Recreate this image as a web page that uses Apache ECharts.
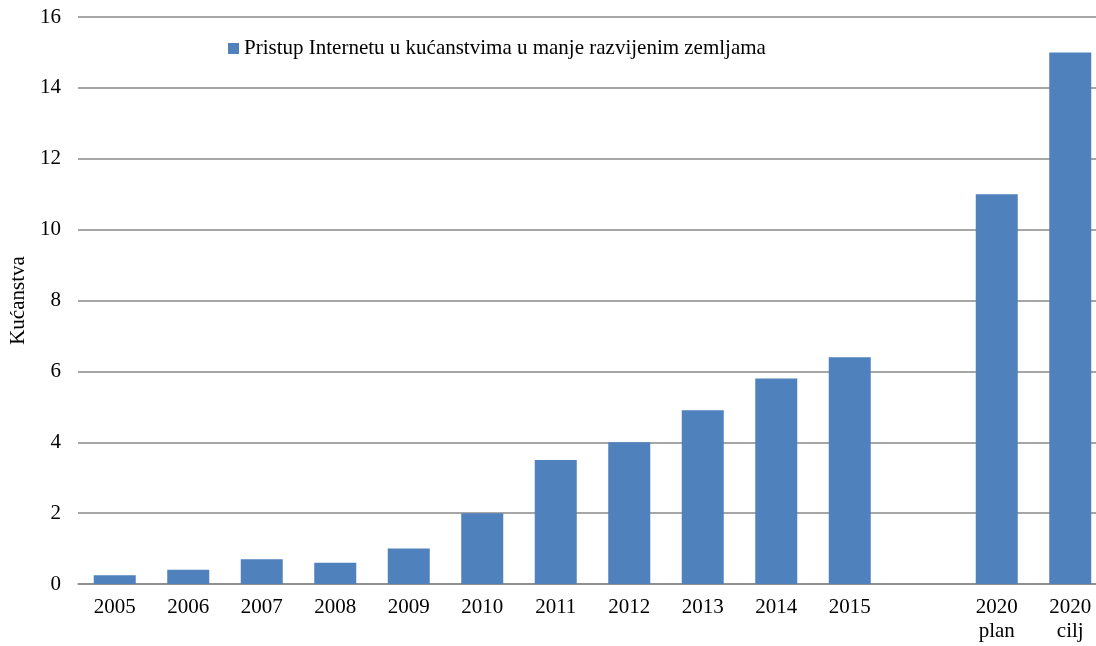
<!DOCTYPE html>
<html><head><meta charset="utf-8">
<script src="https://cdn.jsdelivr.net/npm/echarts@6/dist/echarts.min.js"></script>
<style>html,body{margin:0;padding:0;background:#fff}#c{width:1096px;height:646px}</style>
</head><body><div id="c"></div>
<script>
const categories = ['2005','2006','2007','2008','2009','2010','2011','2012','2013','2014','2015','','2020\nplan','2020\ncilj'];
const values = [0.25,0.4,0.7,0.6,1.0,2.0,3.5,4.0,4.9,5.8,6.4,null,11.0,15.0];
const seriesName = 'Pristup Internetu u kućanstvima u manje razvijenim zemljama';
const yTitle = 'Kućanstva';
const font = 'Liberation Serif, Times New Roman, serif';
const chart = echarts.init(document.getElementById('c'));
chart.setOption({
  animation:false,
  textStyle:{fontFamily:font},
  legend:{show:true,left:223,top:33,itemWidth:11,itemHeight:11,icon:'rect',itemGap:4,
    textStyle:{fontFamily:font,fontSize:21,color:'#000'},data:[seriesName]},
  grid:{left:78,width:1029,top:17,bottom:62,containLabel:false,outerBoundsMode:'none'},
  xAxis:{type:'category',data:categories,
    axisLine:{lineStyle:{color:'#888',width:1.5}},axisTick:{show:false},
    axisLabel:{fontFamily:font,fontSize:21,color:'#000',margin:11,lineHeight:24,interval:0}},
  yAxis:{type:'value',min:0,max:16,interval:2,name:yTitle,nameLocation:'middle',nameGap:49,
    nameTextStyle:{fontFamily:font,fontSize:21,color:'#000'},
    axisLine:{show:false},axisTick:{show:false},
    axisLabel:{fontFamily:font,fontSize:21,color:'#000',margin:17},
    splitLine:{lineStyle:{color:'#888',width:1.5}}},
  series:[{name:seriesName,type:'bar',data:values,barWidth:42,itemStyle:{color:'#4f81bd'}}]
});
</script></body></html>
